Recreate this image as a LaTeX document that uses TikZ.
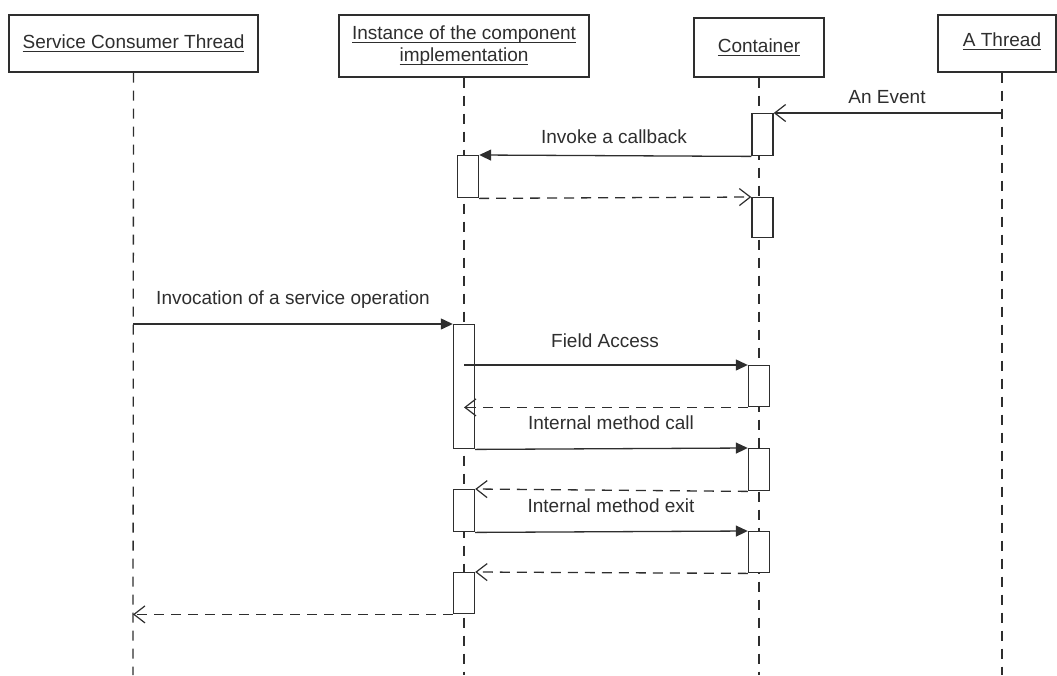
\documentclass[tikz,border=0pt]{standalone}
\usepackage{fontspec}
\setmainfont{Liberation Sans}
\usetikzlibrary{arrows.meta}
\definecolor{ink}{gray}{0.18}
\newcommand{\ulx}[1]{\leavevmode\setbox0=\hbox{#1}\rlap{\vrule width \wd0 height -2.2pt depth 3.4pt}\box0}
\begin{document}
\begin{tikzpicture}[x=1pt,y=-1pt,
  font=\fontsize{19}{23}\selectfont, text=ink,
  hdr/.style={draw=ink, line width=1.4pt, fill=white, inner sep=0pt, align=center},
  act/.style={draw=ink, line width=1.4pt, fill=white, inner sep=0pt, minimum width=21pt, anchor=north},
  life/.style={draw=ink, line width=1.3pt, dash pattern=on 10pt off 8pt},
  msg/.style={draw=ink, line width=1.3pt},
  ret/.style={draw=ink, line width=1.3pt, dash pattern=on 10pt off 7pt},
  filled/.style={-{Triangle[length=12pt,width=11pt]}},
  openhd/.style={-{Straight Barb[length=11pt,width=17pt,line width=1.2pt]}},
  lab/.style={anchor=base, inner sep=0pt}]
\useasboundingbox (0,0) rectangle (1057,675);

% header boxes
\node[hdr, minimum width=249pt, minimum height=57pt] (h1) at (133.5,43.5) {\ulx{Service Consumer Thread}};
\node[hdr, minimum width=250pt, minimum height=62pt] (h2) at (464,46) {\ulx{Instance of the component}\\[-1pt]\ulx{implementation}};
\node[hdr, minimum width=130pt, minimum height=59pt] (h3) at (759,47.5) {\ulx{Container}};
\node[hdr, minimum width=118pt, minimum height=57pt] (h4) at (997,43.5) {};
\node[inner sep=0pt] (h4t) at (1002,41.5) {\ulx{A Thread}};

% lifeline ends
\coordinate (e1) at (133,675);
\coordinate (e2) at (464,675);
\coordinate (e3) at (759,675);
\coordinate (e4) at (1002,675);
\draw[life] (h1.south) -- (e1);
\draw[life] (h2.south) -- (e2);
\draw[life] (h3.south) -- (e3);
\draw[life] (e4 |- h4.south) -- (e4);

% activation boxes
\node[act, minimum height=42pt] (c1) at (762.5,113) {};
\node[act, minimum height=40pt] (c2) at (762.5,197) {};
\node[act, minimum height=41pt] (c3) at (759,365) {};
\node[act, minimum height=42pt] (c4) at (759,448) {};
\node[act, minimum height=41pt] (c5) at (759,531) {};
\node[act, minimum height=42pt] (i1) at (468,155) {};
\node[act, minimum height=124pt] (i2) at (464,324) {};
\node[act, minimum height=42pt] (i3) at (464,489) {};
\node[act, minimum height=41pt] (i4) at (464,572) {};

% messages
\draw[msg, openhd] (e4 |- c1.north) -- (c1.north east);
\node[lab] (l1) at (887,103) {An Event};

\draw[msg, filled] (c1.south west) -- (i1.north east);
\node[lab] (l2) at (614,143) {Invoke a callback};

\draw[ret, openhd] (i1.south east) -- (c2.north west);

\draw[msg, filled] (e1 |- i2.north) -- (i2.north west);
\node[lab] (l3) at (293,304) {Invocation of a service operation};

\draw[msg, filled] (e2 |- c3.north) -- (c3.north west);
\node[lab] (l4) at (605,347) {Field Access};

\draw[ret, openhd] (c3.south west) -- (e2 |- c3.south);

\draw[msg, filled] (i2.south east) -- (c4.north west);
\node[lab] (l5) at (611,429) {Internal method call};

\draw[ret, openhd] (c4.south west) -- (i3.north east);

\draw[msg, filled] (i3.south east) -- (c5.north west);
\node[lab] (l6) at (611,512) {Internal method exit};

\draw[ret, openhd] (c5.south west) -- (i4.north east);

\draw[ret, openhd] (i4.south west) -- (e1 |- i4.south);
\end{tikzpicture}
\end{document}
